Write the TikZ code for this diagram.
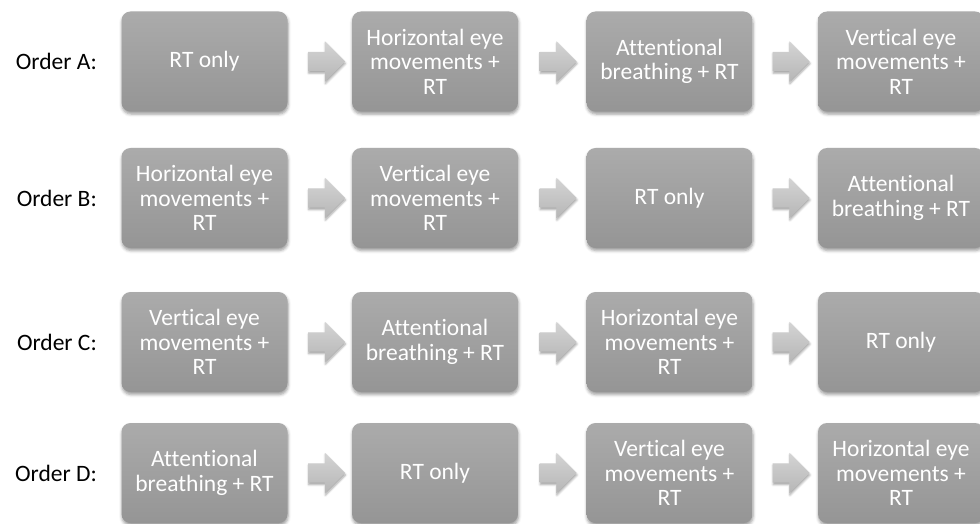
\documentclass[tikz,border=0pt]{standalone}
\usepackage{fontspec}
\setmainfont{Carlito}[Ligatures={NoCommon}]
\usetikzlibrary{shapes.arrows,shadows.blur,calc}
\definecolor{boxtop}{HTML}{ABABAB}
\definecolor{boxbot}{HTML}{959595}
\definecolor{arrtop}{HTML}{D4D4D4}
\definecolor{arrbot}{HTML}{B6B6B6}
\begin{document}
\begin{tikzpicture}[x=1pt,y=-1pt,
  stage/.style={rounded corners=9pt, top color=boxtop, bottom color=boxbot,
    draw=none, minimum width=166pt, minimum height=100pt,
    align=center, text=white, inner sep=0pt,
    font=\fontsize{23.5}{24.5}\selectfont,
    blur shadow={shadow xshift=0.5pt, shadow yshift=-2.5pt,
      shadow opacity=40, shadow blur radius=3pt}},
  flow/.style={single arrow, draw=none, top color=arrtop, bottom color=arrbot,
    minimum height=37pt, text height=9.5pt, text depth=9.5pt, text width=0pt,
    inner sep=0pt, single arrow head extend=10.5pt, single arrow head indent=0pt,
    blur shadow={shadow xshift=0.5pt, shadow yshift=-2pt,
      shadow opacity=35, shadow blur radius=2pt}},
  rowlabel/.style={anchor=east, font=\fontsize{23.5}{25}\selectfont, inner sep=0pt}]
\useasboundingbox (0,0) rectangle (980,524);

% row labels
\node[rowlabel] (la) at (97,61.5) {Order A:};
\node[rowlabel] (lb) at (97,198) {Order B:};
\node[rowlabel] (lc) at (97,342) {Order C:};
\node[rowlabel] (ld) at (97,473) {Order D:};

% Order A
\node[stage] (a1) at (204.5,61.5) {RT only};
\node[stage] (a2) at (435,61.5) {Horizontal eye\\movements +\\RT};
\node[stage] (a3) at (669.5,61.5) {Attentional\\breathing + RT};
\node[stage] (a4) at (901,61.5) {Vertical eye\\movements +\\RT};

% Order B
\node[stage] (b1) at (204.5,198) {Horizontal eye\\movements +\\RT};
\node[stage] (b2) at (435,198) {Vertical eye\\movements +\\RT};
\node[stage] (b3) at (669.5,198) {RT only};
\node[stage] (b4) at (901,198) {Attentional\\breathing + RT};

% Order C
\node[stage] (c1) at (204.5,342) {Vertical eye\\movements +\\RT};
\node[stage] (c2) at (435,342) {Attentional\\breathing + RT};
\node[stage] (c3) at (669.5,342) {Horizontal eye\\movements +\\RT};
\node[stage] (c4) at (901,342) {RT only};

% Order D
\node[stage] (d1) at (204.5,473) {Attentional\\breathing + RT};
\node[stage] (d2) at (435,473) {RT only};
\node[stage] (d3) at (669.5,473) {Vertical eye\\movements +\\RT};
\node[stage] (d4) at (901,473) {Horizontal eye\\movements +\\RT};

% block arrows between consecutive stages
\foreach \r in {a,b,c,d}{
  \node[flow] (\r12) at ($(\r1.east)!0.5!(\r2.west)+(2,0)$) {};
  \node[flow] (\r23) at ($(\r2.east)!0.5!(\r3.west)+(1,0)$) {};
  \node[flow] (\r34) at ($(\r3.east)!0.5!(\r4.west)+(1,0)$) {};
}
\end{tikzpicture}
\end{document}
